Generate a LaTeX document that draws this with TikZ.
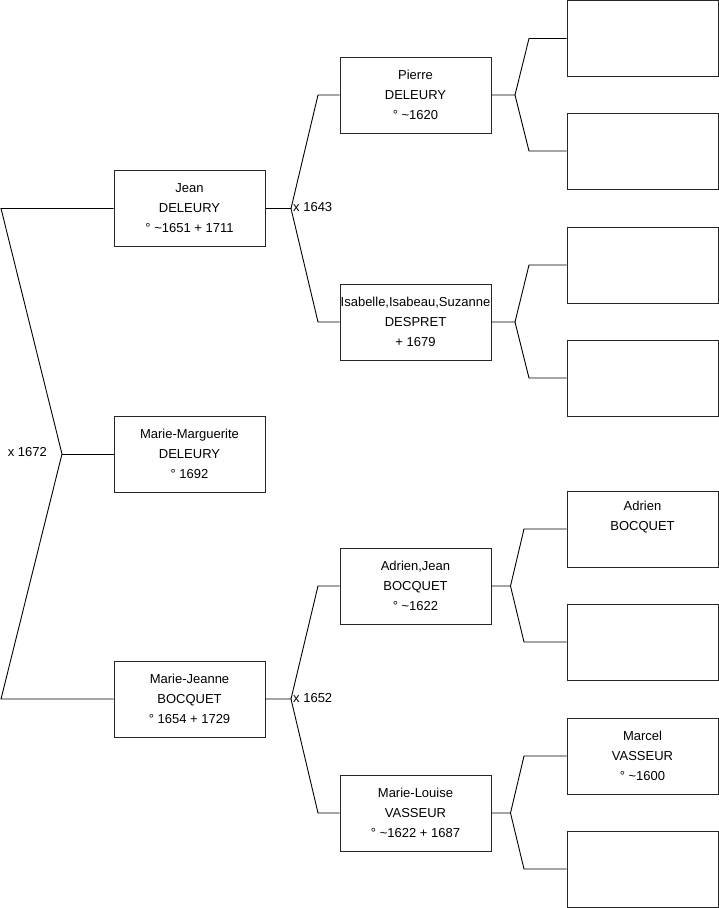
\documentclass[tikz,border=0pt]{standalone}
\usepackage{fontspec}
\setmainfont{Liberation Sans}
\begin{document}
\begin{tikzpicture}[x=1pt,y=-1pt,
  person/.style={draw=black!85,line width=0.9pt,minimum width=151pt,minimum height=76pt,
    inner sep=0pt,align=center,font=\fontsize{13}{20}\selectfont},
  link/.style={draw=black,line width=0.9pt},
  marr/.style={font=\fontsize{13}{14}\selectfont,inner sep=0pt}]
\useasboundingbox (0,0) rectangle (719,908);
% column 1
\node[person] (jean) at (189.5,208.5) {Jean\\DELEURY\\° \textasciitilde1651 + 1711};
\node[person] (mm) at (189.5,454) {Marie-Marguerite\\DELEURY\\° 1692};
\node[person] (mj) at (189.5,699) {Marie-Jeanne\\BOCQUET\\° 1654 + 1729};
% column 2
\node[person] (pierre) at (415.5,95) {Pierre\\DELEURY\\° \textasciitilde1620};
\node[person] (isa) at (415.5,322) {Isabelle,Isabeau,Suzanne\\DESPRET\\+ 1679};
\node[person] (aj) at (415.5,586) {Adrien,Jean\\BOCQUET\\° \textasciitilde1622};
\node[person] (ml) at (415.5,813) {Marie-Louise\\VASSEUR\\° \textasciitilde1622 + 1687};
% column 3
\node[person] (g1) at (642.5,38.5) {};
\node[person] (g2) at (642.5,151) {};
\node[person] (g3) at (642.5,265) {};
\node[person] (g4) at (642.5,378) {};
\node[person] (g5) at (642.5,529) {Adrien\\BOCQUET\\\strut};
\node[person] (g6) at (642.5,642) {};
\node[person] (g7) at (642.5,756) {Marcel\\VASSEUR\\° \textasciitilde1600};
\node[person] (g8) at (642.5,869) {};
% coordinates
\coordinate (r1) at (1,208.5);
\coordinate (r2) at (1,699);
\coordinate (rf) at (62,454);
\coordinate (jf) at (291,208.5);
\coordinate (j1) at (318,95);
\coordinate (j2) at (318,322);
\coordinate (mf) at (291,699);
\coordinate (m1) at (318,586);
\coordinate (m2) at (318,813);
\coordinate (pf) at (515,95);
\coordinate (p1) at (529,38.5);
\coordinate (p2) at (529,151);
\coordinate (if) at (515,322);
\coordinate (i1) at (529,265);
\coordinate (i2) at (529,378);
\coordinate (af) at (510.5,586);
\coordinate (a1) at (524,529);
\coordinate (a2) at (524,642);
\coordinate (lf) at (510.5,813);
\coordinate (l1) at (524,756);
\coordinate (l2) at (524,869);
% connectors
\draw[link] (jean.west) -- (r1) -- (rf) -- (r2) -- (mj.west);
\draw[link] (rf) -- (mm.west);
\draw[link] (jean.east) -- (jf) -- (j1) -- (pierre.west);
\draw[link] (jf) -- (j2) -- (isa.west);
\draw[link] (mj.east) -- (mf) -- (m1) -- (aj.west);
\draw[link] (mf) -- (m2) -- (ml.west);
\draw[link] (pierre.east) -- (pf) -- (p1) -- (g1.west);
\draw[link] (pf) -- (p2) -- (g2.west);
\draw[link] (isa.east) -- (if) -- (i1) -- (g3.west);
\draw[link] (if) -- (i2) -- (g4.west);
\draw[link] (aj.east) -- (af) -- (a1) -- (g5.west);
\draw[link] (af) -- (a2) -- (g6.west);
\draw[link] (ml.east) -- (lf) -- (l1) -- (g7.west);
\draw[link] (lf) -- (l2) -- (g8.west);
% marriage labels
\node[marr,anchor=east] (x1672) at (47,452) {x 1672};
\node[marr,anchor=west] (x1643) at (293,207) {x 1643};
\node[marr,anchor=west] (x1652) at (293,698) {x 1652};
\end{tikzpicture}
\end{document}
